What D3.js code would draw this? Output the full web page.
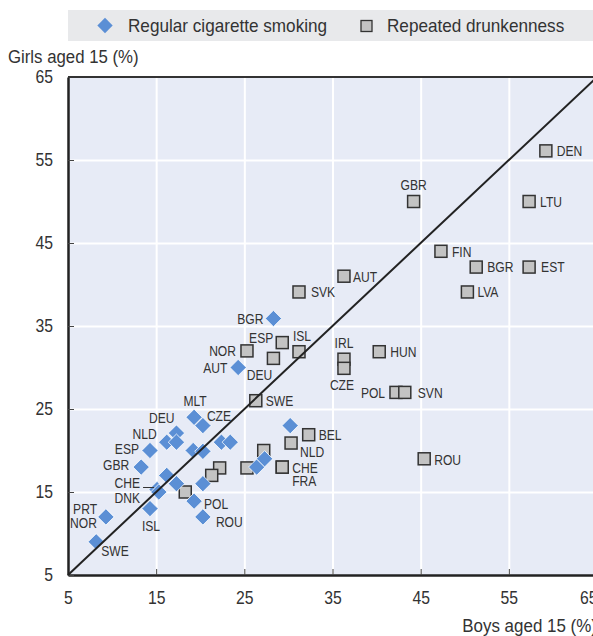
<!DOCTYPE html>
<html>
<head>
<meta charset="utf-8">
<script src="https://cdn.jsdelivr.net/npm/d3@7"></script>
<style>
  html, body { margin: 0; padding: 0; background: #fff; overflow: hidden; }
  svg { display: block; font-family: "Liberation Sans", Arial, sans-serif; }
  text { transform-box: fill-box; }
</style>
</head>
<body>
<script>
// Regular cigarette smoking (boys %, girls %)
const smokeCodes = ["BGR","AUT","MLT","CZE","DEU","NLD","ESP","GBR","CHE","DNK","PRT","NOR","SWE","ISL","POL","ROU",
                    "", "", "", "", "", "", "", "", "", "", ""];
const smokeBoys  = [28.3, 24.3, 19.3, 20.3, 17.3, 16.2, 14.3, 13.3, 15.1, 15.3, 9.3, 9.3, 8.2, 14.3, 19.3, 20.3,
                    17.3, 19.2, 20.3, 22.4, 23.4, 16.2, 17.3, 20.3, 26.4, 27.3, 30.2];
const smokeGirls = [35.9, 30.0, 24.0, 23.0, 22.1, 21.0, 20.0, 18.0, 15.3, 15.0, 12.0, 12.0, 9.0, 13.0, 13.9, 12.0,
                    21.0, 20.0, 19.9, 21.0, 21.0, 17.0, 16.0, 16.0, 18.0, 19.0, 23.0];

// Repeated drunkenness (boys %, girls %)
const drunkCodes = ["DEN","GBR","LTU","FIN","BGR","EST","LVA","AUT","SVK","ESP","ISL","NOR","DEU","IRL","CZE","HUN",
                    "POL","SVN","SWE","BEL","NLD","CHE","FRA","ROU", "", "", "", "", ""];
const drunkBoys  = [59.2, 44.2, 57.3, 47.3, 51.3, 57.3, 50.3, 36.3, 31.2, 29.3, 31.2, 25.3, 28.3, 36.3, 36.3, 40.3,
                    42.2, 43.2, 26.3, 32.3, 30.3, 29.3, 29.3, 45.4, 27.2, 25.3, 22.2, 21.3, 18.3];
const drunkGirls = [56.1, 50.0, 50.0, 44.0, 42.1, 42.1, 39.1, 41.0, 39.1, 33.0, 31.9, 32.0, 31.1, 31.0, 29.9, 31.9,
                    27.0, 27.0, 26.0, 21.9, 20.9, 18.0, 18.0, 19.0, 20.0, 17.9, 17.9, 17.0, 15.0];

const ticks = [5, 15, 25, 35, 45, 55, 65];
const legendLabels = ["Regular cigarette smoking", "Repeated drunkenness"];
const xTitle = "Boys aged 15 (%)", yTitle = "Girls aged 15 (%)";

// label placement: [dx, dy, anchor] relative to the marker
const smokePlace = {
  BGR:[-10,0,"end"], AUT:[-11,0,"end"], MLT:[1,-17,"middle"], CZE:[4,-10,"start"], DEU:[-2,-15,"end"],
  NLD:[-10,-9,"end"], ESP:[-11,-2,"end"], GBR:[-12,-3,"end"], CHE:[-17,-7,"end"], DNK:[-19,6,"end"],
  PRT:[-9,-8,"end"], NOR:[-9,6,"end"], SWE:[5,9,"start"], ISL:[1,17,"middle"], POL:[10,2,"start"], ROU:[13,5,"start"]
};
const drunkPlace = {
  DEN:[11,0,"start"], GBR:[0,-17,"middle"], LTU:[11,0,"start"], FIN:[11,0,"start"], BGR:[11,0,"start"],
  EST:[12,0,"start"], LVA:[10,0,"start"], AUT:[9,0,"start"], SVK:[12,0,"start"], ESP:[-9,-5,"end"],
  ISL:[3,-16,"middle"], NOR:[-11,0,"end"], DEU:[-14,16,"middle"], IRL:[0,-17,"middle"], CZE:[-2,16,"middle"],
  HUN:[11,0,"start"], POL:[-11,0,"end"], SVN:[13,0,"start"], SWE:[10,0,"start"], BEL:[10,0,"start"],
  NLD:[9,9,"start"], CHE:[10,0,"start"], FRA:[10,13,"start"], ROU:[10,1,"start"]
};

const width = 593, height = 636;
const marginLeft = 68, plotRight = 597, plotTop = 77, plotBottom = 575;
const blue = "#5b8fd5", grey = "#c3c3c3", ink = "#333";

const svg = d3.select("body").append("svg")
    .attr("width", width).attr("height", height);

const x = d3.scaleLinear([5, 65], [marginLeft, plotRight]);
const y = d3.scaleLinear([5, 65], [plotBottom, plotTop]);

// squeeze text horizontally around its anchor (narrow typeface look)
function narrow(sel, k, anchor) {
  sel.style("transform-origin", anchor === "start" ? "left center" : anchor === "end" ? "right center" : "center")
     .style("transform", `scaleX(${k})`);
}

// legend band
const lg = svg.append("g");
lg.append("rect").attr("x", 68).attr("y", 10).attr("width", 560).attr("height", 31).attr("fill", "#e8e9eb");
lg.append("path").attr("d", d3.symbol(d3.symbolDiamond2, 150)()).attr("transform", "translate(105,25.5)").attr("fill", blue);
lg.append("text").attr("x", 128).attr("y", 25.5).attr("dy", "0.35em").attr("font-size", 17.5).attr("fill", ink)
    .text(legendLabels[0]).call(narrow, 0.98, "start");
lg.append("rect").attr("x", 361).attr("y", 20.5).attr("width", 11).attr("height", 11)
    .attr("fill", grey).attr("stroke", ink).attr("stroke-width", 1.3);
lg.append("text").attr("x", 387).attr("y", 25.5).attr("dy", "0.35em").attr("font-size", 17.5).attr("fill", ink)
    .text(legendLabels[1]).call(narrow, 0.98, "start");

// plot background + grid
svg.append("rect").attr("x", marginLeft).attr("y", plotTop)
    .attr("width", plotRight - marginLeft).attr("height", plotBottom - plotTop).attr("fill", "#e7ebf6");
svg.append("g").attr("transform", `translate(0,${plotBottom})`)
    .call(d3.axisBottom(x).tickValues(ticks.slice(1, -1)).tickSize(-(plotBottom - plotTop)).tickFormat(""))
    .call(g => g.select(".domain").remove())
    .call(g => g.selectAll(".tick line").attr("stroke", "#fff").attr("stroke-width", 2));
svg.append("g").attr("transform", `translate(${marginLeft},0)`)
    .call(d3.axisLeft(y).tickValues(ticks.slice(1, -1)).tickSize(-(plotRight - marginLeft)).tickFormat(""))
    .call(g => g.select(".domain").remove())
    .call(g => g.selectAll(".tick line").attr("stroke", "#fff").attr("stroke-width", 2));

// axes with short inner ticks and labels
svg.append("g").attr("transform", `translate(0,${plotBottom})`)
    .call(d3.axisBottom(x).tickValues(ticks).tickSizeInner(-6).tickSizeOuter(0).tickPadding(17))
    .call(g => g.select(".domain").attr("stroke", "#222").attr("stroke-width", 2.5))
    .call(g => g.selectAll(".tick line").attr("stroke", "#444"))
    .call(g => g.selectAll(".tick text").attr("font-size", 17.5).attr("fill", ink).attr("font-family", null)
        .call(narrow, 0.9, "middle"))
    .call(g => g.selectAll(".tick text").filter(d => d === 65).attr("text-anchor", "end")
        .call(narrow, 0.9, "end"));
svg.append("g").attr("transform", `translate(${marginLeft},0)`)
    .call(d3.axisLeft(y).tickValues(ticks).tickSizeInner(-6).tickSizeOuter(0).tickPadding(15))
    .call(g => g.select(".domain").attr("stroke", "#222").attr("stroke-width", 2.5))
    .call(g => g.selectAll(".tick line").attr("stroke", "#444"))
    .call(g => g.selectAll(".tick text").attr("font-size", 17.5).attr("fill", ink).attr("font-family", null)
        .call(narrow, 0.9, "end"));
svg.append("line").attr("x1", marginLeft).attr("x2", plotRight).attr("y1", plotTop).attr("y2", plotTop)
    .attr("stroke", "#333").attr("stroke-width", 2);

svg.append("text").attr("x", 8).attr("y", 57).attr("dy", "0.35em").attr("font-size", 17.5).attr("fill", ink)
    .text(yTitle).call(narrow, 0.96, "start");
svg.append("text").attr("x", plotRight).attr("y", 626).attr("dy", "0.35em").attr("text-anchor", "end")
    .attr("font-size", 17.5).attr("fill", ink).text(xTitle).call(narrow, 0.97, "end");

const drunk = drunkCodes.map((c, i) => ({code: c, bx: drunkBoys[i], gy: drunkGirls[i]}));
const smoke = smokeCodes.map((c, i) => ({code: c, bx: smokeBoys[i], gy: smokeGirls[i]}));

// squares
svg.append("g").selectAll("rect").data(drunk).join("rect")
    .attr("x", d => x(d.bx) - 6).attr("y", d => y(d.gy) - 6)
    .attr("width", 12).attr("height", 12)
    .attr("fill", grey).attr("stroke", ink).attr("stroke-width", 1.5);

// diamonds
svg.append("g").selectAll("path").data(smoke).join("path")
    .attr("d", d3.symbol(d3.symbolDiamond2, 170)())
    .attr("transform", d => `translate(${x(d.bx)},${y(d.gy)})`)
    .attr("fill", blue).attr("stroke", "#fff").attr("stroke-width", 0.8);

// 45 degree line
svg.append("line").attr("x1", x(5)).attr("y1", y(5)).attr("x2", x(65)).attr("y2", y(65))
    .attr("stroke", "#222").attr("stroke-width", 2);

// labels
function labels(data, place) {
  svg.append("g").attr("font-size", 15.5).attr("fill", ink)
    .selectAll("text").data(data.filter(d => place[d.code])).join("text")
      .attr("x", d => x(d.bx) + place[d.code][0])
      .attr("y", d => y(d.gy) + place[d.code][1])
      .attr("dy", "0.35em")
      .attr("text-anchor", d => place[d.code][2])
      .text(d => d.code)
      .each(function(d) { d3.select(this).call(narrow, 0.78, place[d.code][2]); });
}
labels(drunk, drunkPlace);
labels(smoke, smokePlace);

// leader line for CHE
const che = smoke.find(d => d.code === "CHE");
svg.append("line").attr("x1", x(che.bx) - 14).attr("x2", x(che.bx) - 3)
    .attr("y1", y(che.gy) - 2).attr("y2", y(che.gy) - 2).attr("stroke", ink).attr("stroke-width", 1);
</script>
</body>
</html>
